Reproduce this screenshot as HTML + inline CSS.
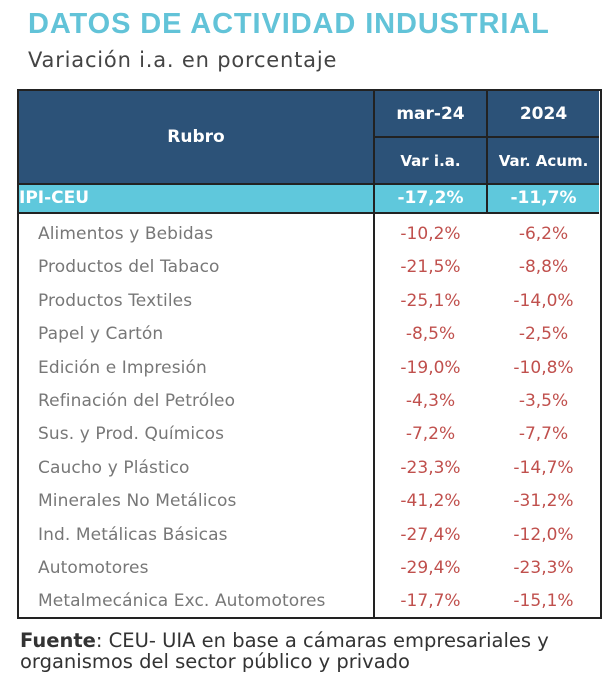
<!DOCTYPE html><html><head><meta charset="utf-8"><style>
body{margin:0;width:610px;height:684px;background:#fff;font-family:"DejaVu Sans","Liberation Sans",sans-serif;position:relative;overflow:hidden}
.a{position:absolute;white-space:nowrap}
.t{left:28px;top:8px;font-size:29px;font-weight:bold;color:#62c3d8;font-family:"Liberation Sans",sans-serif;letter-spacing:0.9px}
.s{left:28px;top:48px;font-size:21px;color:#444;letter-spacing:0.8px}
.hd{background:#2c5278;color:#fff;font-weight:bold;font-size:17px;display:flex;align-items:center;justify-content:center}
.r{font-size:17px;color:#777;left:38px;letter-spacing:0.1px}
.v{font-size:17px;color:#c0504d;text-align:center}
</style></head><body>
<div class="a t">DATOS DE ACTIVIDAD INDUSTRIAL</div>
<div class="a s">Variación i.a. en porcentaje</div>
<div class="a" style="left:17px;top:89px;width:585px;height:530px;border:2px solid #222;box-sizing:border-box"></div>
<div class="a" style="left:19px;top:91px;width:580px;height:121px;background:#222"></div>
<div class="a hd" style="left:19px;top:91px;width:354px;height:92px">Rubro</div>
<div class="a hd" style="left:375px;top:91px;width:111px;height:45px">mar-24</div>
<div class="a hd" style="left:488px;top:91px;width:111px;height:45px">2024</div>
<div class="a hd" style="left:375px;top:138px;width:111px;height:45px;font-size:15px">Var i.a.</div>
<div class="a hd" style="left:488px;top:138px;width:111px;height:45px;font-size:15px">Var. Acum.</div>
<div class="a" style="left:19px;top:185px;width:580px;height:27px;background:#5fc8dc"></div>
<div class="a" style="left:373px;top:91px;width:2px;height:526px;background:#222"></div>
<div class="a" style="left:486px;top:91px;width:2px;height:121px;background:#222"></div>
<div class="a" style="left:19px;top:183px;width:580px;height:2px;background:#222"></div>
<div class="a" style="left:19px;top:212px;width:580px;height:2px;background:#222"></div>
<div class="a" style="left:19px;top:188px;font-size:17px;font-weight:bold;color:#fff">IPI-CEU</div>
<div class="a" style="left:375px;top:188px;width:111px;text-align:center;font-size:17px;font-weight:bold;color:#fff">-17,2%</div>
<div class="a" style="left:488px;top:188px;width:111px;text-align:center;font-size:17px;font-weight:bold;color:#fff">-11,7%</div>
<div id="rows"></div>
<script>
var d=[["Alimentos y Bebidas","-10,2%","-6,2%"],["Productos del Tabaco","-21,5%","-8,8%"],["Productos Textiles","-25,1%","-14,0%"],["Papel y Cartón","-8,5%","-2,5%"],["Edición e Impresión","-19,0%","-10,8%"],["Refinación del Petróleo","-4,3%","-3,5%"],["Sus. y Prod. Químicos","-7,2%","-7,7%"],["Caucho y Plástico","-23,3%","-14,7%"],["Minerales No Metálicos","-41,2%","-31,2%"],["Ind. Metálicas Básicas","-27,4%","-12,0%"],["Automotores","-29,4%","-23,3%"],["Metalmecánica Exc. Automotores","-17,7%","-15,1%"]];
var h="";d.forEach(function(r,i){var y=224+i*33.4;h+='<div class="a r" style="top:'+y+'px">'+r[0]+'</div><div class="a v" style="left:375px;width:111px;top:'+y+'px">'+r[1]+'</div><div class="a v" style="left:488px;width:111px;top:'+y+'px">'+r[2]+'</div>';});
document.getElementById("rows").innerHTML=h;
</script>
<div class="a" style="left:20px;top:630px;font-size:19.5px;color:#333;line-height:21px;white-space:normal;width:600px"><b>Fuente</b>: CEU- UIA en base a cámaras empresariales y<br>organismos del sector público y privado</div>
</body></html>
